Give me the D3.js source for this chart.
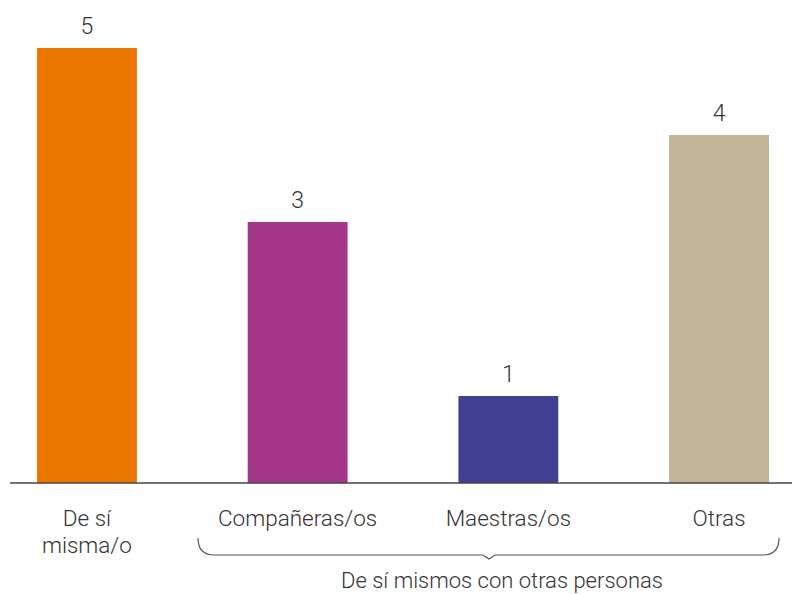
<!DOCTYPE html>
<html><head><meta charset="utf-8">
<script src="https://cdn.jsdelivr.net/npm/d3@7"></script>
<style>html,body{margin:0;padding:0;background:#fff;}svg{display:block;}</style>
</head><body>
<svg id="c" width="792" height="594"></svg>
<script>
const categories = ["De sí\nmisma/o", "Compañeras/os", "Maestras/os", "Otras"];
const values = [5, 3, 1, 4];
const colors = ["#EC7700", "#A5378A", "#414093", "#C2B298"];
const groupLabel = "De sí mismos con otras personas";

const svg = d3.select("#c");
const font = "Roboto, sans-serif";
const textColor = "#333";

const x = d3.scaleBand().domain(categories).range([37, 769]).paddingInner(0.526).paddingOuter(0);
const y = d3.scaleLinear().domain([0, 5]).range([483, 48]);

svg.selectAll("rect.bar").data(values).join("rect")
  .attr("class", "bar")
  .attr("x", (d, i) => x(categories[i]))
  .attr("width", x.bandwidth())
  .attr("y", d => y(d))
  .attr("height", d => y(0) - y(d))
  .attr("fill", (d, i) => colors[i]);

svg.selectAll("text.val").data(values).join("text")
  .attr("class", "val")
  .attr("x", (d, i) => x(categories[i]) + x.bandwidth() / 2)
  .attr("y", d => y(d) - 14)
  .attr("text-anchor", "middle")
  .attr("font-family", font).attr("font-weight", 300)
  .attr("font-size", 23).attr("fill", textColor)
  .text(d => d);

// axis line
const axis = d3.axisBottom(x).tickSize(0).tickFormat("");
const ag = svg.append("g").attr("transform", `translate(0,${y(0)})`).call(axis);
ag.select(".domain").remove();
ag.append("line").attr("x1", 10).attr("x2", 792).attr("stroke", "#444").attr("stroke-width", 1.5);

// category labels
categories.forEach((c, i) => {
  const lines = c.split("\n");
  const t = svg.append("text")
    .attr("x", x(c) + x.bandwidth() / 2)
    .attr("y", 526)
    .attr("text-anchor", "middle")
    .attr("font-family", font).attr("font-weight", 300)
    .attr("font-size", 22.5).attr("fill", textColor);
  lines.forEach((l, j) => {
    t.append("tspan").attr("x", x(c) + x.bandwidth() / 2).attr("dy", j === 0 ? 0 : 27).text(l);
  });
});

// brace
const bx0 = 198, bx1 = 779, byTop = 538, byLine = 555, r = 16;
const tipX = 489;
const p = d3.path();
p.moveTo(bx0, byTop);
p.quadraticCurveTo(bx0, byLine, bx0 + r, byLine);
p.lineTo(tipX - 6, byLine);
p.lineTo(tipX, byLine + 4);
p.lineTo(tipX + 6, byLine);
p.lineTo(bx1 - r, byLine);
p.quadraticCurveTo(bx1, byLine, bx1, byTop);
svg.append("path").attr("d", p.toString()).attr("fill", "none").attr("stroke", "#555").attr("stroke-width", 1.2);

svg.append("text").attr("x", 502).attr("y", 588)
  .attr("text-anchor", "middle")
  .attr("font-family", font).attr("font-weight", 300)
  .attr("font-size", 22).attr("fill", textColor)
  .text(groupLabel);
</script>
</body></html>
